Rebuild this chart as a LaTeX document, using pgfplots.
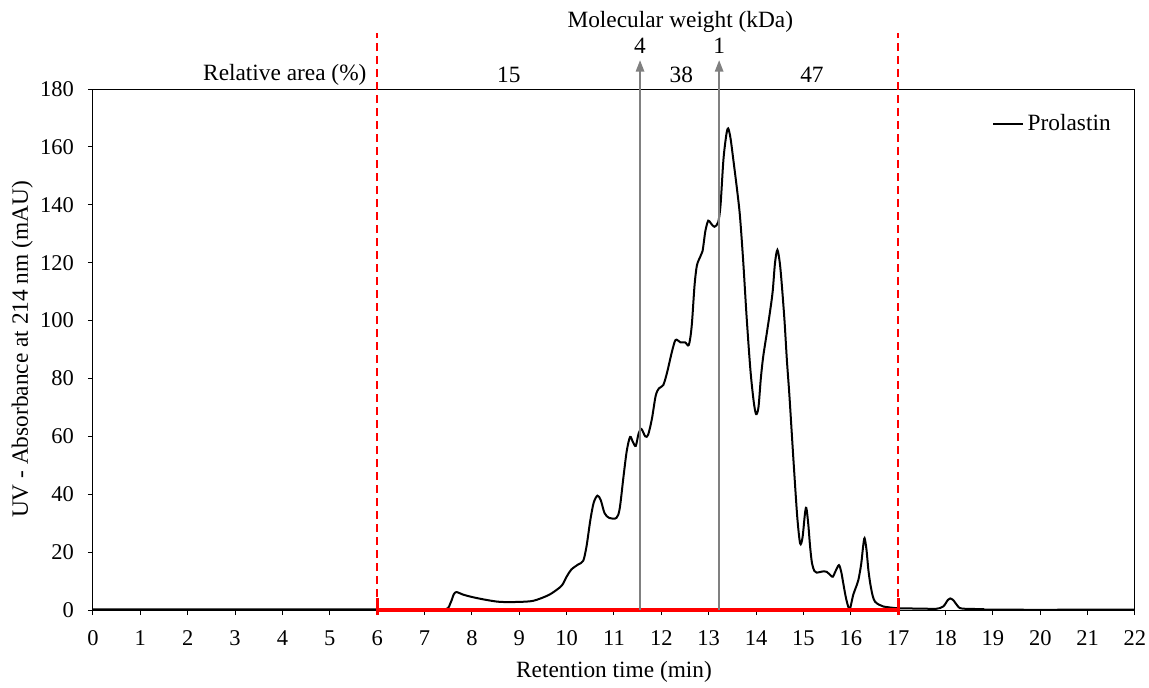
\documentclass[border=0pt]{standalone}
\usepackage{fontspec}
\setmainfont{Liberation Serif}
\usepackage{pgfplots}
\pgfplotsset{compat=1.18}
\usetikzlibrary{arrows.meta}
\definecolor{arrowgray}{RGB}{128,128,128}
\newcommand{\lf}{\fontsize{14}{16}\selectfont}
\begin{document}
\begin{tikzpicture}
\begin{axis}[
  scale only axis,
  width=625.2pt, height=312.6pt,
  xmin=0, xmax=22, ymin=0, ymax=180,
  xtick={0,1,...,22}, ytick={0,20,...,180},
  tick align=outside, major tick length=3pt,
  xtick pos=bottom, ytick pos=left,
  axis line style={line width=0.6pt},
  tick style={line width=0.6pt, black},
  tick label style={font=\fontsize{13.5}{15}\selectfont},
  xticklabel style={inner xsep=0pt, yshift=-6pt},
  yticklabel style={xshift=-5pt},
  label style={font=\lf},
  /pgf/number format/assume math mode=true,
  xlabel={Retention time (min)},
  ylabel={UV - Absorbance at 214 nm (mAU)},
  xlabel style={yshift=-2pt},
  ylabel style={yshift=-2.5pt},
  clip=false,
  legend style={draw=none, fill=none, at={(0.985,0.965)}, anchor=north east, font=\lf},
  legend cell align=left,
  legend image code/.code={\draw[#1, line width=1.2pt] (0pt,0pt) -- (18pt,0pt);},
]
\addplot[black, line width=1.2pt, smooth, tension=0.5] coordinates {
(0,0.2) (2,0.2) (4,0.2) (6,0.2) (7,0.2) (7.45,0.3) (7.55,2.5) (7.62,5.5) (7.68,6.2) (7.8,5.4) (8.0,4.5) (8.3,3.5) (8.6,2.8) (9.0,2.8) (9.3,3.2) (9.6,5) (9.75,6.5) (9.9,8.5) (10.0,11.5) (10.1,14) (10.25,15.8) (10.35,17) (10.42,22) (10.5,31) (10.57,37) (10.65,39.5) (10.72,38) (10.8,33.5) (10.9,31.8) (11.05,31.8) (11.12,35) (11.2,46) (11.27,55) (11.34,59.8) (11.4,58) (11.46,56.7) (11.52,61) (11.58,62.5) (11.66,60) (11.72,60.5) (11.8,66) (11.88,74) (11.95,76.6) (12.04,77.7) (12.12,82) (12.22,89) (12.3,93.3) (12.4,92.5) (12.5,92.5) (12.58,91.6) (12.64,98) (12.7,112) (12.75,119) (12.82,122) (12.87,124) (12.93,131) (12.99,134.5) (13.05,133.5) (13.12,132.4) (13.2,134) (13.25,140) (13.31,155.5) (13.37,164) (13.41,166.4) (13.46,163) (13.52,155.5) (13.6,145) (13.66,136) (13.73,120) (13.8,101.3) (13.88,83) (13.95,72) (14.0,67.7) (14.05,70) (14.1,80) (14.15,87.5) (14.22,95) (14.29,102.6) (14.35,110) (14.4,120) (14.45,124.4) (14.5,120) (14.54,113) (14.6,100) (14.65,86.4) (14.7,75) (14.75,62) (14.8,49) (14.87,32) (14.93,23) (14.98,25) (15.03,33) (15.06,35.3) (15.1,30) (15.14,22) (15.18,16.2) (15.23,13.5) (15.28,12.9) (15.4,13.3) (15.49,13.2) (15.57,12) (15.62,11.5) (15.68,13.5) (15.75,15.5) (15.8,13) (15.84,9.3) (15.9,4) (15.97,0.2) (16.02,3) (16.05,5.2) (16.1,7.5) (16.16,10.4) (16.22,16) (16.26,22) (16.29,24.8) (16.33,21) (16.37,14) (16.41,9.2) (16.46,5) (16.51,2.9) (16.6,1.8) (16.69,1.2) (17.0,0.6) (17.5,0.5) (17.8,0.4) (17.95,1.2) (18.05,3.5) (18.1,4.0) (18.17,3.3) (18.25,1.5) (18.35,0.5) (18.8,0.3) (19.0,0.1) (22,0.1)
};
\addlegendentry{Prolastin}
% red region markers
\draw[red, line width=1.2pt, dash pattern=on 4.8pt off 3pt] (axis cs:6,0) -- (axis cs:6,199.5);
\draw[red, line width=1.2pt, dash pattern=on 4.8pt off 3pt] (axis cs:17,0) -- (axis cs:17,199.5);
\draw[red, line width=2pt] (axis cs:6,0) -- (axis cs:17,0);
\draw[red, line width=1.8pt] (axis cs:6,-1.8) -- (axis cs:6,4);
\draw[red, line width=1.8pt] (axis cs:17,-1.8) -- (axis cs:17,4);
% molecular weight arrows
\draw[arrowgray, line width=1.2pt, -{Triangle[length=7pt, width=5pt]}] (axis cs:11.55,0) -- (axis cs:11.55,190);
\draw[arrowgray, line width=1.2pt, -{Triangle[length=7pt, width=5pt]}] (axis cs:13.22,0) -- (axis cs:13.22,190);
% texts
\node[font=\lf] at (axis cs:12.4,203.2) {Molecular weight (kDa)};
\node[font=\lf] at (axis cs:11.55,195) {4};
\node[font=\lf] at (axis cs:13.22,195) {1};
\node[font=\lf] at (axis cs:4.05,184.8) {Relative area (\%)};
\node[font=\lf] at (axis cs:8.78,184.8) {15};
\node[font=\lf] at (axis cs:12.42,184.8) {38};
\node[font=\lf] at (axis cs:15.18,184.8) {47};
% page frame
\path (rel axis cs:-0.08925,-0.13436) rectangle (rel axis cs:1.01344,1.17083);
\end{axis}
\end{tikzpicture}
\end{document}
